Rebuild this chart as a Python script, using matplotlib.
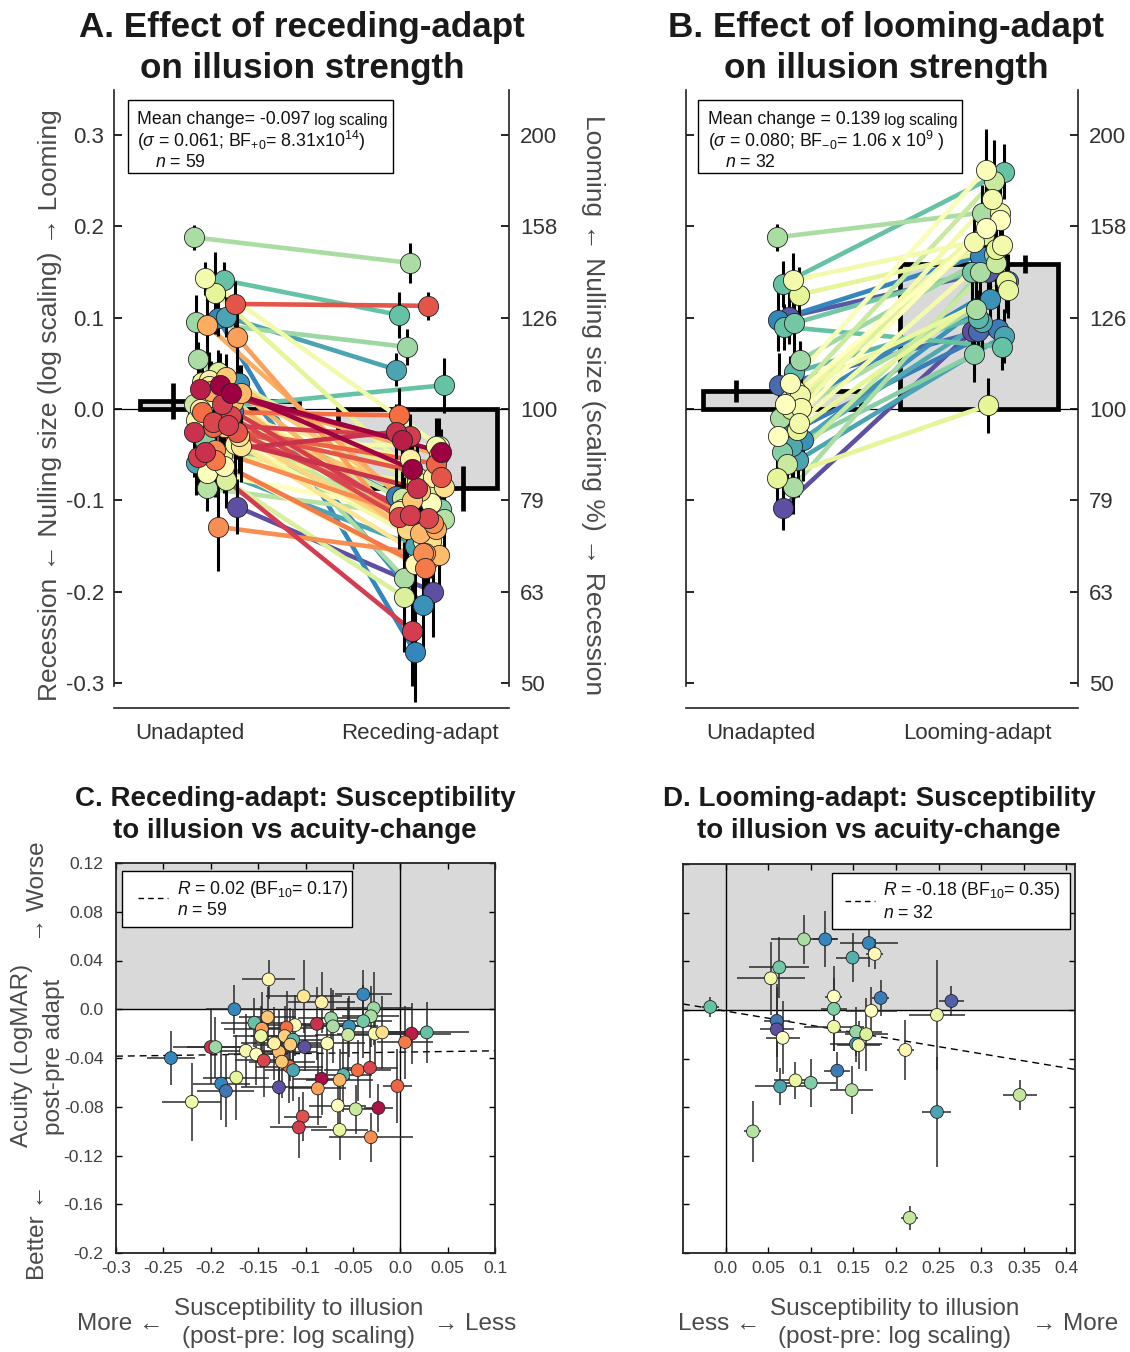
import numpy as np
import matplotlib
matplotlib.use('Agg')
import matplotlib.pyplot as plt
from matplotlib.patches import Rectangle

plt.rcParams['font.family'] = ['Liberation Sans', 'DejaVu Sans']
plt.rcParams['mathtext.fontset'] = 'custom'
plt.rcParams['mathtext.rm'] = 'Liberation Sans'
plt.rcParams['mathtext.it'] = 'Liberation Sans:italic'
plt.rcParams['mathtext.bf'] = 'Liberation Sans:bold'

# ---------------- DATA ----------------
# Panel A: receding-adapt (log scaling), per participant
a_pre = [0.188, 0.141, 0.143, 0.115, 0.127, 0.095, 0.101, 0.092, 0.079, 0.100,
         0.055, 0.003, 0.032, 0.028, 0.026, 0.022, 0.017, 0.013, 0.018, 0.005,
         -0.003, 0.008, -0.014, -0.025, -0.020, -0.047, -0.038, -0.056, -0.059, -0.078,
         -0.087, -0.107, -0.129, -0.053, -0.005, 0.010, -0.030, -0.015, 0.000, -0.008,
         0.020, -0.040, -0.050, 0.030, -0.002, -0.020, 0.006, -0.062, -0.035, 0.015,
         -0.045, -0.012, 0.035, -0.070, -0.025, 0.040, -0.005, -0.018, 0.025]
a_post = [0.160, 0.103, -0.040, 0.113, -0.075, 0.068, 0.043, -0.131, -0.158, -0.266,
          -0.185, 0.026, -0.074, -0.215, -0.066, -0.034, -0.047, -0.103, -0.136, -0.116,
          -0.007, -0.160, -0.119, -0.087, -0.131, -0.025, -0.040, -0.174, -0.150, -0.206,
          -0.120, -0.200, -0.158, -0.243, -0.098, -0.110, -0.145, -0.090, -0.055, -0.118,
          -0.050, -0.165, -0.080, -0.128, -0.095, -0.060, -0.140, -0.170, -0.105, -0.085,
          -0.125, -0.145, -0.100, -0.110, -0.075, -0.090, -0.135, -0.030, -0.112]
a_pre_err = [0.014, 0.020, 0.018, 0.025, 0.045, 0.030, 0.022, 0.035, 0.040, 0.020,
             0.018, 0.025, 0.030, 0.020, 0.035, 0.030, 0.025, 0.040, 0.030, 0.035,
             0.045, 0.030, 0.040, 0.050, 0.035, 0.045, 0.040, 0.040, 0.035, 0.030,
             0.025, 0.030, 0.048, 0.040, 0.030, 0.030, 0.040, 0.030, 0.035, 0.030,
             0.025, 0.040, 0.030, 0.025, 0.030, 0.035, 0.030, 0.030, 0.030, 0.025,
             0.035, 0.030, 0.025, 0.030, 0.030, 0.025, 0.030, 0.030, 0.025]
a_post_err = [0.022, 0.025, 0.030, 0.015, 0.035, 0.020, 0.018, 0.030, 0.035, 0.055,
              0.035, 0.030, 0.025, 0.050, 0.030, 0.025, 0.025, 0.030, 0.035, 0.030,
              0.030, 0.040, 0.030, 0.030, 0.035, 0.030, 0.030, 0.045, 0.035, 0.060,
              0.035, 0.050, 0.035, 0.060, 0.030, 0.030, 0.040, 0.030, 0.030, 0.035,
              0.030, 0.040, 0.030, 0.035, 0.030, 0.030, 0.035, 0.045, 0.030, 0.030,
              0.035, 0.040, 0.030, 0.030, 0.030, 0.030, 0.035, 0.025, 0.030]
a_color = [0.70, 0.80, 0.55, 0.15, 0.60, 0.72, 0.85, 0.30, 0.28, 0.90,
           0.70, 0.80, 0.45, 0.88, 0.00, 0.05, 0.00, 0.50, 0.32, 0.10,
           0.20, 0.33, 0.12, 0.08, 0.38, 0.08, 0.55, 0.22, 0.85, 0.62,
           0.68, 1.00, 0.25, 0.10, 0.65, 0.75, 0.40, 0.35, 0.45, 0.12,
           0.30, 0.42, 0.60, 0.58, 0.92, 0.18, 0.65, 0.48, 0.75, 0.40,
           0.25, 0.55, 0.35, 0.50, 0.15, 0.62, 0.95, 0.10, 0.45]
a_bar_mean = [0.009, -0.087]
a_bar_err = [0.020, 0.025]

# Panel B: looming-adapt (log scaling), per participant
b_pre = [0.188, 0.141, 0.137, 0.125, 0.101, 0.098, 0.094, 0.090, 0.054, 0.028,
         0.026, 0.020, 0.006, 0.001, 0.000, -0.010, -0.023, -0.028, -0.034, -0.040,
         -0.047, -0.056, -0.060, -0.076, -0.085, -0.108, -0.015, 0.010, -0.030, 0.040,
         -0.005, 0.015]
b_post = [0.215, 0.183, 0.260, 0.175, 0.150, 0.168, 0.150, 0.068, 0.170, 0.262,
          0.085, 0.130, 0.207, 0.230, 0.190, 0.110, 0.140, 0.088, 0.120, 0.095,
          0.060, 0.080, 0.160, 0.004, 0.150, 0.085, 0.180, 0.250, 0.198, 0.100,
          0.140, 0.215]
b_pre_err = [0.015, 0.030, 0.025, 0.030, 0.030, 0.035, 0.030, 0.025, 0.020, 0.030,
             0.035, 0.030, 0.035, 0.040, 0.030, 0.035, 0.040, 0.050, 0.045, 0.040,
             0.035, 0.040, 0.030, 0.035, 0.030, 0.025, 0.030, 0.030, 0.035, 0.025,
             0.030, 0.030]
b_post_err = [0.030, 0.025, 0.030, 0.035, 0.030, 0.030, 0.035, 0.025, 0.030, 0.045,
              0.030, 0.030, 0.040, 0.035, 0.030, 0.030, 0.035, 0.030, 0.030, 0.030,
              0.030, 0.030, 0.040, 0.030, 0.035, 0.030, 0.035, 0.045, 0.030, 0.030,
              0.030, 0.035]
b_color = [0.70, 0.55, 0.80, 0.60, 0.98, 0.90, 0.78, 0.80, 0.72, 0.52,
           0.95, 0.58, 0.50, 0.55, 0.62, 0.70, 0.60, 0.92, 0.88, 0.84,
           0.75, 0.85, 0.65, 0.60, 0.70, 1.00, 0.55, 0.65, 0.50, 0.82,
           0.90, 0.57]
b_bar_mean = [0.020, 0.159]
b_bar_err = [0.012, 0.010]

log_ticks = [-0.3, -0.2, -0.1, 0.0, 0.1, 0.2, 0.3]
log_labels = ['-0.3', '-0.2', '-0.1', '0.0', '0.1', '0.2', '0.3']
pct_labels = ['50', '63', '79', '100', '126', '158', '200']

# Panel C: receding-adapt susceptibility vs acuity change
c_x = [-0.242, -0.200, -0.195, -0.175, -0.139, -0.154, -0.140, -0.146, -0.147, -0.163,
       -0.152, -0.144, -0.111, -0.120, -0.122, -0.113, -0.116, -0.128, -0.101, -0.102,
       -0.083, -0.088, -0.073, -0.071, -0.077, -0.054, -0.055, -0.039, -0.028, -0.031,
       -0.039, -0.027, -0.019, 0.012, 0.028, 0.005, -0.117, -0.189, -0.184, -0.173,
       -0.220, -0.125, -0.113, -0.128, -0.083, -0.060, -0.064, -0.087, -0.045, -0.032,
       -0.003, -0.066, -0.047, -0.023, -0.103, -0.107, -0.064, -0.031, -0.133]
c_y = [-0.040, -0.031, -0.031, 0.000, 0.0245, -0.011, -0.0065, -0.016, -0.022, -0.034,
       -0.037, -0.042, -0.013, -0.015, -0.022, -0.025, -0.029, -0.035, -0.031, 0.0106,
       0.0057, -0.012, -0.0074, -0.014, -0.028, -0.014, -0.021, 0.0122, 0.0008, -0.0057,
       -0.0098, -0.020, -0.019, -0.020, -0.019, -0.027, -0.047, -0.061, -0.067, -0.056,
       -0.076, -0.043, -0.050, -0.064, -0.057, -0.054, -0.058, -0.065, -0.050, -0.048,
       -0.063, -0.079, -0.082, -0.081, -0.088, -0.097, -0.099, -0.105, -0.028]
c_xerr = [0.025, 0.040, 0.030, 0.030, 0.028, 0.035, 0.030, 0.040, 0.030, 0.035,
          0.030, 0.030, 0.030, 0.040, 0.035, 0.030, 0.035, 0.040, 0.030, 0.040,
          0.035, 0.030, 0.035, 0.030, 0.040, 0.030, 0.035, 0.030, 0.040, 0.030,
          0.030, 0.040, 0.035, 0.042, 0.045, 0.030, 0.035, 0.030, 0.030, 0.035,
          0.031, 0.035, 0.030, 0.040, 0.030, 0.030, 0.035, 0.030, 0.035, 0.030,
          0.015, 0.030, 0.020, 0.015, 0.020, 0.030, 0.030, 0.044, 0.035]
c_yerr = [0.022, 0.030, 0.025, 0.020, 0.016, 0.020, 0.025, 0.030, 0.025, 0.030,
          0.025, 0.030, 0.025, 0.030, 0.025, 0.025, 0.030, 0.035, 0.020, 0.030,
          0.025, 0.030, 0.025, 0.030, 0.025, 0.025, 0.030, 0.020, 0.030, 0.025,
          0.030, 0.025, 0.030, 0.025, 0.025, 0.030, 0.030, 0.030, 0.030, 0.035,
          0.032, 0.030, 0.025, 0.030, 0.030, 0.030, 0.025, 0.030, 0.025, 0.025,
          0.030, 0.020, 0.020, 0.020, 0.020, 0.025, 0.025, 0.020, 0.030]
c_color = [0.90, 0.08, 0.72, 0.90, 0.47, 0.80, 0.35, 0.28, 0.58, 0.55,
           0.50, 0.12, 0.52, 0.20, 0.37, 0.82, 0.36, 0.33, 1.00, 0.42,
           0.45, 0.08, 0.72, 0.70, 0.52, 0.88, 0.65, 0.90, 0.72, 0.70,
           0.78, 0.55, 0.40, 0.05, 0.80, 0.22, 0.20, 0.90, 0.93, 0.60,
           0.55, 0.35, 0.85, 1.00, 0.02, 0.82, 0.32, 0.28, 0.20, 0.12,
           0.18, 0.50, 0.65, 0.03, 0.14, 0.10, 0.58, 0.25, 0.45]
c_fit = (0.011, -0.0352)  # slope, intercept

# Panel D: looming-adapt susceptibility vs acuity change
d_x = [-0.018, 0.092, 0.117, 0.168, 0.149, 0.175, 0.063, 0.053, 0.127, 0.127,
       0.182, 0.265, 0.171, 0.248, 0.060, 0.060, 0.067, 0.127, 0.153, 0.165,
       0.153, 0.156, 0.211, 0.131, 0.064, 0.082, 0.100, 0.148, 0.248, 0.345,
       0.032, 0.216]
d_y = [0.0024, 0.058, 0.058, 0.055, 0.043, 0.046, 0.035, 0.026, 0.011, 0.0008,
       0.0098, 0.0073, -0.0008, -0.0041, -0.009, -0.016, -0.023, -0.0139, -0.018, -0.020,
       -0.028, -0.029, -0.033, -0.050, -0.063, -0.058, -0.060, -0.066, -0.084, -0.070,
       -0.100, -0.171]
d_xerr = [0.010, 0.039, 0.015, 0.034, 0.020, 0.010, 0.035, 0.040, 0.010, 0.015,
          0.010, 0.015, 0.030, 0.033, 0.015, 0.020, 0.020, 0.035, 0.030, 0.025,
          0.030, 0.025, 0.010, 0.015, 0.030, 0.025, 0.030, 0.025, 0.017, 0.020,
          0.010, 0.010]
d_yerr = [0.008, 0.020, 0.023, 0.020, 0.020, 0.012, 0.025, 0.030, 0.015, 0.035,
          0.015, 0.012, 0.020, 0.045, 0.030, 0.035, 0.030, 0.020, 0.020, 0.030,
          0.015, 0.020, 0.025, 0.015, 0.015, 0.015, 0.020, 0.020, 0.045, 0.012,
          0.025, 0.010]
d_color = [0.80, 0.70, 0.90, 0.90, 0.83, 0.48, 0.78, 0.55, 0.50, 0.76,
           0.92, 0.97, 0.50, 0.57, 0.93, 1.00, 0.50, 0.57, 0.73, 0.62,
           0.87, 0.56, 0.48, 0.92, 0.85, 0.57, 0.76, 0.68, 0.85, 0.66,
           0.68, 0.66]
d_fit = (-0.117, -0.0010)

acuity_ticks = [-0.2, -0.16, -0.12, -0.08, -0.04, 0.0, 0.04, 0.08, 0.12]
acuity_labels = ['-0.2', '-0.16', '-0.12', '-0.08', '-0.04', '0.0', '0.04', '0.08', '0.12']
c_xticks = [-0.3, -0.25, -0.2, -0.15, -0.1, -0.05, 0.0, 0.05, 0.1]
c_xlabels = ['-0.3', '-0.25', '-0.2', '-0.15', '-0.1', '-0.05', '0.0', '0.05', '0.1']
d_xticks = [0.0, 0.05, 0.1, 0.15, 0.2, 0.25, 0.3, 0.35, 0.4]
d_xlabels = ['0.0', '0.05', '0.1', '0.15', '0.2', '0.25', '0.3', '0.35', '0.4']

# ---------------- FIGURE ----------------
W, H = 1130, 1352
fig = plt.figure(figsize=(W / 100, H / 100), dpi=100)
cmap = plt.get_cmap('Spectral')
TXT = '#333333'
LAB = '#4a4a4a'


def px_axes(l, t, r, b):
    return fig.add_axes([l / W, 1 - b / H, (r - l) / W, (b - t) / H])


def ftext(x, y, s, **kw):
    return fig.text(x / W, 1 - y / H, s, **kw)


YLIM_AB = (-0.3274, 0.3493)


def paired_panel(ax, pre, post, pre_err, post_err, cvals, x_pre, x_post, spread,
                 bar_mean, bar_err, bar_err_x, xlim, tickpos, ticklabels, left_labels):
    ax.set_xlim(*xlim)
    ax.set_ylim(*YLIM_AB)
    ax.axhline(0, color='black', lw=0.9, zorder=1)
    ax.bar([1, 2], bar_mean, width=0.803, color='#d9d9d9', edgecolor='black',
           linewidth=3.4, zorder=1.5)
    n = len(pre)
    xs_pre, xs_post = [0.0] * n, [0.0] * n
    for i in range(n):
        j = ((i * 37) % 23 - 11) / 11.0
        k = ((i * 53 + 5) % 19 - 9) / 9.0
        xs_pre[i] = x_pre + j * spread[0]
        xs_post[i] = x_post + k * spread[1]
    # draw in order of decreasing colour value so the warm colours sit on top
    order = sorted(range(n), key=lambda i: -cvals[i])
    for i in order:
        ax.plot([xs_pre[i], xs_post[i]], [pre[i], post[i]], color=cmap(cvals[i]),
                lw=3.3, zorder=2, solid_capstyle='butt')
    ax.errorbar(xs_pre + xs_post, list(pre) + list(post),
                yerr=list(pre_err) + list(post_err), fmt='none', ecolor='black',
                elinewidth=2.2, capsize=0, zorder=3)
    for i in order:
        c = cmap(cvals[i])
        ax.plot([xs_pre[i], xs_post[i]], [pre[i], post[i]], 'o', ls='none', ms=14.5,
                mfc=c, mec='#222222', mew=0.6, zorder=4)
    ax.errorbar(bar_err_x, bar_mean, yerr=bar_err, fmt='none', ecolor='black',
                elinewidth=3.4, capsize=0, zorder=5)
    for s in ['top', 'right']:
        ax.spines[s].set_visible(False)
    ax.spines['left'].set_bounds(-0.303, YLIM_AB[1])
    ax.spines['left'].set_linewidth(1.2)
    ax.spines['bottom'].set_linewidth(1.2)
    ax.spines['left'].set_color('#222222')
    ax.spines['bottom'].set_color('#222222')
    ax.set_yticks(log_ticks)
    if left_labels:
        ax.set_yticklabels(log_labels)
    else:
        ax.set_yticklabels([])
    ax.tick_params(axis='y', direction='in', length=6, width=1.2, labelsize=16,
                   labelcolor=TXT, pad=7)
    ax.set_xticks(tickpos)
    ax.set_xticklabels(ticklabels)
    ax.tick_params(axis='x', length=0, labelsize=16, labelcolor=TXT, pad=11)
    ax2 = ax.twinx()
    ax2.set_ylim(*YLIM_AB)
    for s in ['top', 'left', 'bottom']:
        ax2.spines[s].set_visible(False)
    ax2.spines['right'].set_bounds(-0.303, YLIM_AB[1])
    ax2.spines['right'].set_linewidth(1.2)
    ax2.spines['right'].set_color('#222222')
    ax2.set_yticks(log_ticks)
    ax2.set_yticklabels(pct_labels)
    ax2.tick_params(axis='y', direction='in', length=6, width=1.2, labelsize=16,
                    labelcolor=TXT, pad=8)
    return ax2


# Panel A
axA = px_axes(114, 90, 509, 708)
paired_panel(axA, a_pre, a_post, a_pre_err, a_post_err, a_color, 0.99, 2.013,
             (0.12, 0.12), a_bar_mean, a_bar_err, [0.765, 2.23], (0.467, 2.462),
             [0.85, 2.01], ['Unadapted', 'Receding-adapt'], True)

# Panel B
axB = px_axes(686, 90, 1078, 708)
paired_panel(axB, b_pre, b_post, b_pre_err, b_post_err, b_color, 1.04, 2.056,
             (0.065, 0.09), b_bar_mean, b_bar_err, [0.766, 2.234], (0.513, 2.503),
             [0.893, 1.99], ['Unadapted', 'Looming-adapt'], False)


def stat_box(ax, x0, x1, y0, y1):
    ax.add_patch(Rectangle((x0, y0), x1 - x0, y1 - y0, transform=ax.transAxes,
                           facecolor='white', edgecolor='black', lw=1.0, zorder=6))


# Panel A box
stat_box(axA, 0.035, 0.706, 0.866, 0.984)
t = axA.text(0.058, 0.953, 'Mean change= -0.097', transform=axA.transAxes,
             fontsize=12.8, va='center', ha='left', color='#111111', zorder=7)
axA.annotate(' log scaling', xy=(1, 0), xycoords=t, va='bottom', ha='left',
             fontsize=11.2, color='#111111', zorder=7)
axA.text(0.058, 0.917, r'($\sigma$ = 0.061; BF$_{+0}$= 8.31x10$^{14}$)',
         transform=axA.transAxes, fontsize=12.8, va='center', ha='left',
         color='#111111', zorder=7)
axA.text(0.104, 0.883, r'$n$ = 59', transform=axA.transAxes, fontsize=12.8,
         va='center', ha='left', color='#111111', zorder=7)

# Panel B box
stat_box(axB, 0.031, 0.704, 0.866, 0.984)
t = axB.text(0.056, 0.953, 'Mean change = 0.139', transform=axB.transAxes,
             fontsize=12.8, va='center', ha='left', color='#111111', zorder=7)
axB.annotate(' log scaling', xy=(1, 0), xycoords=t, va='bottom', ha='left',
             fontsize=11.2, color='#111111', zorder=7)
axB.text(0.056, 0.917, r'($\sigma$ = 0.080; BF$_{-0}$= 1.06 x 10$^{9}$ )',
         transform=axB.transAxes, fontsize=12.8, va='center', ha='left',
         color='#111111', zorder=7)
axB.text(0.099, 0.883, r'$n$ = 32', transform=axB.transAxes, fontsize=12.8,
         va='center', ha='left', color='#111111', zorder=7)

# Titles and labels of A/B
ftext(302, 48, 'A. Effect of receding-adapt\non illusion strength', ha='center',
      va='center', fontsize=25.2, fontweight='bold', color='#1a1a1a', linespacing=1.33)
ftext(886, 48, 'B. Effect of looming-adapt\non illusion strength', ha='center',
      va='center', fontsize=25.2, fontweight='bold', color='#1a1a1a', linespacing=1.33)
ftext(50, 405, 'Recession \u2190 Nulling size (log scaling) \u2192 Looming', rotation=90,
      ha='center', va='center', fontsize=19, color=LAB)
ftext(593, 405, 'Looming \u2190 Nulling size (scaling %) \u2192 Recession', rotation=-90,
      ha='center', va='center', fontsize=19, color=LAB)


def scatter_panel(ax, x, y, xerr, yerr, cvals, xlim, xticks, xlabels, fit, ylabels):
    ax.set_xlim(*xlim)
    ax.set_ylim(-0.2, 0.12)
    ax.axhspan(0, 0.12, color='#d9d9d9', zorder=0, lw=0)
    ax.axhline(0, color='black', lw=1.0, zorder=1)
    ax.axvline(0, color='black', lw=1.0, zorder=1)
    xx = np.array(xlim)
    ax.plot(xx, fit[0] * xx + fit[1], color='black', lw=1.0, ls=(0, (5, 3.5)), zorder=2)
    ax.errorbar(x, y, xerr=xerr, yerr=yerr, fmt='none', ecolor='#2a2a2a',
                elinewidth=1.1, capsize=0, zorder=3)
    ax.scatter(x, y, s=85, c=[cmap(v) for v in cvals], edgecolors='#222222',
               linewidths=0.6, zorder=4)
    ax.set_xticks(xticks)
    ax.set_xticklabels(xlabels)
    ax.set_yticks(acuity_ticks)
    if ylabels:
        ax.set_yticklabels(acuity_labels)
    else:
        ax.set_yticklabels([])
    ax.tick_params(direction='in', length=4, width=1.0, top=True, right=True,
                   labelsize=12.6, labelcolor='#404040')
    ax.tick_params(axis='x', pad=6)
    ax.tick_params(axis='y', pad=9)
    for s in ax.spines.values():
        s.set_linewidth(1.3)
        s.set_color('#222222')


axC = px_axes(116, 863, 495, 1253)
scatter_panel(axC, c_x, c_y, c_xerr, c_yerr, c_color, (-0.3, 0.1), c_xticks, c_xlabels,
              c_fit, True)
axD = px_axes(683, 864, 1075, 1253)
scatter_panel(axD, d_x, d_y, d_xerr, d_yerr, d_color, (-0.05, 0.41), d_xticks, d_xlabels,
              d_fit, False)


def corr_box(ax, x0, x1, y0, y1, lx0, lx1, ly, tx, ty1, ty2, s1, s2):
    ax.add_patch(Rectangle((x0, y0), x1 - x0, y1 - y0, transform=ax.transAxes,
                           facecolor='white', edgecolor='black', lw=1.0, zorder=6))
    ax.plot([lx0, lx1], [ly, ly], transform=ax.transAxes, color='black', lw=1.0,
            ls=(0, (4, 3)), zorder=7)
    ax.text(tx, ty1, s1, transform=ax.transAxes, fontsize=12.7, va='center',
            ha='left', color='#111111', zorder=7)
    ax.text(tx, ty2, s2, transform=ax.transAxes, fontsize=12.7, va='center',
            ha='left', color='#111111', zorder=7)


corr_box(axC, 0.016, 0.623, 0.836, 0.979, 0.058, 0.137, 0.910, 0.161, 0.931, 0.877,
         r'$R$ = 0.02 (BF$_{10}$= 0.17)', r'$n$ = 59')
corr_box(axD, 0.380, 0.987, 0.833, 0.977, 0.413, 0.490, 0.905, 0.510, 0.931, 0.874,
         r'$R$ = -0.18 (BF$_{10}$= 0.35)', r'$n$ = 32')

ftext(295, 815, 'C. Receding-adapt: Susceptibility\nto illusion vs acuity-change',
      ha='center', va='center', fontsize=20, fontweight='bold', color='#1a1a1a',
      linespacing=1.33)
ftext(879, 815, 'D. Looming-adapt: Susceptibility\nto illusion vs acuity-change',
      ha='center', va='center', fontsize=20, fontweight='bold', color='#1a1a1a',
      linespacing=1.33)

# C y-label pieces
ftext(22, 1055, 'Acuity (LogMAR)', rotation=90, ha='center', va='center', fontsize=17.5,
      color=LAB)
ftext(54, 1057, 'post-pre adapt', rotation=90, ha='center', va='center', fontsize=17.5,
      color=LAB)
ftext(38, 1232, 'Better \u2190', rotation=90, ha='center', va='center', fontsize=17.5,
      color=LAB)
ftext(38, 892, '\u2192 Worse', rotation=90, ha='center', va='center', fontsize=17.5,
      color=LAB)

# x-labels of C and D
ftext(299, 1323, 'Susceptibility to illusion\n(post-pre: log scaling)', ha='center',
      va='center', fontsize=17.5, color=LAB, linespacing=1.4)
ftext(120, 1324, 'More \u2190', ha='center', va='center', fontsize=17.5, color=LAB)
ftext(475, 1324, '\u2192 Less', ha='center', va='center', fontsize=17.5, color=LAB)
ftext(895, 1323, 'Susceptibility to illusion\n(post-pre: log scaling)', ha='center',
      va='center', fontsize=17.5, color=LAB, linespacing=1.4)
ftext(719, 1324, 'Less \u2190', ha='center', va='center', fontsize=17.5, color=LAB)
ftext(1075, 1324, '\u2192 More', ha='center', va='center', fontsize=17.5, color=LAB)

fig.savefig('out.png', dpi=100)
